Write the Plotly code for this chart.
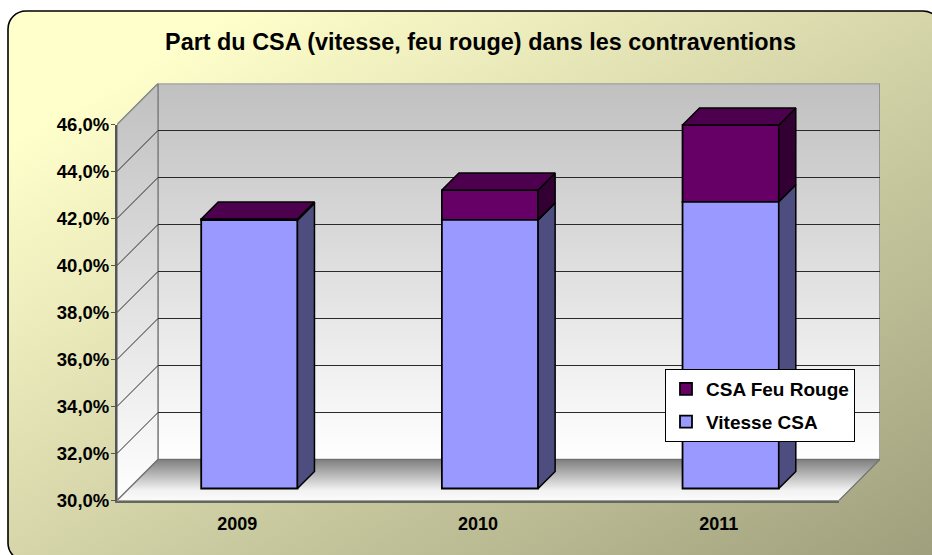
import base64
import plotly.graph_objects as go

# ---- data ----
categories = ["2009", "2010", "2011"]
vitesse_csa = [41.42, 41.43, 42.2]
feu_rouge = [0.05, 1.27, 3.27]
tick_values = [30, 32, 34, 36, 38, 40, 42, 44, 46]
tick_labels = ["30,0%", "32,0%", "34,0%", "36,0%", "38,0%", "40,0%", "42,0%", "44,0%", "46,0%"]
title_text = "Part du CSA (vitesse, feu rouge) dans les contraventions"

# ---- geometry of the 3-D box, in pixels ----
W, H = 932, 555
FRONT_L, FRONT_R, FRONT_B, FRONT_T = 117, 839, 500.5, 124.5
WALL_D = 41        # depth of the walls
BAR_OFF = 12       # distance of the bar front from the front plane
BAR_D = 17         # depth of a bar
Y_MIN, Y_MAX = tick_values[0], tick_values[-1]
PX_X = (FRONT_R - FRONT_L) / len(categories)
PX_Y = (FRONT_B - FRONT_T) / (Y_MAX - Y_MIN)
BAR_W = 0.4
DX = lambda px: px / PX_X
DY = lambda px: px / PX_Y
FONT = "Liberation Sans, Arial, sans-serif"


def dom_x(a, b):
    return [a / W, b / W]


def dom_y(bottom, top):
    return [1 - bottom / H, 1 - top / H]


# full box area, used with an offset range for each depth plane
BOX_X = dom_x(FRONT_L, FRONT_R + WALL_D)
BOX_Y = dom_y(FRONT_B, FRONT_T - WALL_D)
X0, X1 = -0.5, -0.5 + DX(FRONT_R + WALL_D - FRONT_L)
Y1 = Y_MIN + DY(FRONT_B - FRONT_T + WALL_D)


def plane_ranges(depth):
    return [X0 - DX(depth), X1 - DX(depth)], [Y_MIN - DY(depth), Y1 - DY(depth)]


fig = go.Figure()
xend = X0 + DX(FRONT_R - FRONT_L)
wx, wy = DX(WALL_D), DY(WALL_D)
wall_scale = [[0, "#FFFFFF"], [1, "#C0C0C0"]]
EDGE = "#858585"


def poly(xs, ys, fill=None, grad=None, line=EDGE, lw=1.5, xa="x", ya="y"):
    kw = dict(x=xs, y=ys, mode="lines", fill="toself", showlegend=False, hoverinfo="skip",
              line=dict(color=line, width=lw), xaxis=xa, yaxis=ya)
    if fill:
        kw["fillcolor"] = fill
    if grad:
        kw["fillgradient"] = grad
    fig.add_trace(go.Scatter(**kw))


# back wall
poly([X0 + wx, X1, X1, X0 + wx, X0 + wx], [Y_MIN + wy, Y_MIN + wy, Y1, Y1, Y_MIN + wy],
     grad=dict(type="vertical", colorscale=wall_scale, start=Y_MIN + wy, stop=Y1))
# side wall
poly([X0, X0 + wx, X0 + wx, X0, X0], [Y_MIN, Y_MIN + wy, Y1, Y_MAX, Y_MIN],
     grad=dict(type="vertical", colorscale=wall_scale, start=Y_MIN, stop=Y1))
# floor
poly([X0, xend, xend + wx, X0 + wx, X0], [Y_MIN, Y_MIN, Y_MIN + wy, Y_MIN + wy, Y_MIN],
     grad=dict(type="vertical",
               colorscale=[[0, "#FBFBFB"], [0.25, "#F2F2F2"], [1, "#7E7E7E"]],
               start=Y_MIN, stop=Y_MIN + wy), line="#707070", lw=1.2)

# gridlines running across the side wall
gx, gy = [], []
for t in tick_values[1:-1]:
    gx += [X0, X0 + wx, None]
    gy += [t, t + wy, None]
fig.add_trace(go.Scatter(x=gx, y=gy, mode="lines", line=dict(color="#2A2A2A", width=1),
                         showlegend=False, hoverinfo="skip", xaxis="x", yaxis="y"))

# back-wall plane: empty trace so that its gridlines are drawn
fig.add_trace(go.Scatter(x=[0], y=[None], xaxis="x2", yaxis="y2", mode="lines",
                         showlegend=False, hoverinfo="skip"))

# bars: front faces
FEU, VIT = "#660066", "#9999FF"
bar_line = dict(color="#000000", width=1.8)
x_pos = list(range(len(categories)))
totals = [v + f for v, f in zip(vitesse_csa, feu_rouge)]
fig.add_trace(go.Bar(x=x_pos, y=feu_rouge, base=vitesse_csa, width=BAR_W, name="CSA Feu Rouge",
                     marker=dict(color=FEU, line=bar_line), xaxis="x3", yaxis="y3",
                     legendgroup="feu"))
fig.add_trace(go.Bar(x=x_pos, y=[v - Y_MIN for v in vitesse_csa], base=Y_MIN, width=BAR_W,
                     name="Vitesse CSA", marker=dict(color=VIT, line=bar_line),
                     xaxis="x3", yaxis="y3", legendgroup="vit"))

# bars: side and top faces
bx, by = DX(BAR_D), DY(BAR_D)
for p, v, t in zip(x_pos, vitesse_csa, totals):
    r, l = p + BAR_W / 2, p - BAR_W / 2
    poly([r, r + bx, r + bx, r, r], [Y_MIN, Y_MIN + by, v + by, v, Y_MIN],
         fill="#4D4D80", line="#000000", xa="x3", ya="y3")
    poly([r, r + bx, r + bx, r, r], [v, v + by, t + by, t, v],
         fill="#330033", line="#000000", xa="x3", ya="y3")
    poly([l, r, r + bx, l + bx, l], [t, t, t + by, t + by, t],
         fill="#4D004D", line="#000000", xa="x3", ya="y3")

# panel with diagonal gradient, as an inline SVG below everything
svg = f"""<svg xmlns='http://www.w3.org/2000/svg' width='{W}' height='{H}' viewBox='0 0 {W} {H}'>
<defs><linearGradient id='g' x1='0' y1='0' x2='1' y2='1'>
<stop offset='0' stop-color='#FFFFCC'/><stop offset='0.12' stop-color='#FFFFCC'/>
<stop offset='1' stop-color='#9E9E7C'/></linearGradient></defs>
<rect x='8' y='11' width='933' height='550' rx='18' ry='18' fill='url(#g)' stroke='#000000' stroke-width='1.6'/>
</svg>"""
src = "data:image/svg+xml;base64," + base64.b64encode(svg.encode()).decode()

tickfont = dict(family=FONT, size=18, color="#000000", weight="bold")
yfont = dict(family=FONT, size=18.5, color="#000000", weight="bold")
hidden = dict(visible=False, fixedrange=True, automargin=False)
xr3, yr3 = plane_ranges(BAR_OFF)

fig.update_layout(
    width=W, height=H, autosize=False,
    margin=dict(l=0, r=0, t=0, b=0, pad=0),
    paper_bgcolor="#FFFFFF", plot_bgcolor="rgba(0,0,0,0)",
    barmode="overlay",
    font=dict(family=FONT, color="#000000"),
    title=dict(text=title_text, x=480.5 / W, xanchor="center", xref="paper",
               y=1 - 42 / H, yanchor="middle", yref="container", automargin=False,
               font=dict(family=FONT, size=23.4, color="#000000", weight="bold")),
    images=[dict(source=src, xref="paper", yref="paper", x=0, y=1, sizex=1, sizey=1,
                 xanchor="left", yanchor="top", sizing="stretch", layer="below")],
    # walls and floor
    xaxis=dict(domain=BOX_X, range=[X0, X1], anchor="y", **hidden),
    yaxis=dict(domain=BOX_Y, range=[Y_MIN, Y1], anchor="x", **hidden),
    # back wall gridlines
    xaxis2=dict(domain=dom_x(FRONT_L + WALL_D, FRONT_R + WALL_D), range=[-0.5, 2.5], anchor="y2", **hidden),
    yaxis2=dict(domain=dom_y(FRONT_B - WALL_D, FRONT_T - WALL_D), range=[Y_MIN, Y_MAX], anchor="x2",
                tickvals=tick_values[1:-1], showgrid=True, gridcolor="#2A2A2A", gridwidth=1,
                showticklabels=False, ticks="", showline=False, zeroline=False, fixedrange=True,
                automargin=False),
    # bar plane
    xaxis3=dict(domain=BOX_X, range=xr3, anchor="y3", **hidden),
    yaxis3=dict(domain=BOX_Y, range=yr3, anchor="x3", **hidden),
    # front plane: the visible axes
    xaxis4=dict(domain=dom_x(FRONT_L, FRONT_R), range=[-0.5, 2.5], anchor="y4",
                tickvals=x_pos, ticktext=categories, tickfont=tickfont, ticks="", ticklabelstandoff=6,
                showline=True, linecolor="#666666", linewidth=1.5, showgrid=False, zeroline=False,
                fixedrange=True, automargin=False),
    yaxis4=dict(domain=dom_y(FRONT_B, FRONT_T), range=[Y_MIN, Y_MAX], anchor="x4",
                tickvals=tick_values, ticktext=tick_labels, tickfont=yfont,
                ticks="outside", ticklen=4, tickcolor="#555555", tickwidth=1.2, ticklabelstandoff=-2,
                showline=True, linecolor="#555555", linewidth=2, showgrid=False, zeroline=False,
                fixedrange=True, automargin=False),
    legend=dict(x=665 / W, y=1 - 369 / H, xanchor="left", yanchor="top",
                bgcolor="#FFFFFF", bordercolor="#000000", borderwidth=1,
                font=dict(family=FONT, size=19, color="#000000", weight="bold"),
                tracegroupgap=5, traceorder="grouped"),
)
# empty trace so the front axes exist
fig.add_trace(go.Scatter(x=x_pos, y=[None] * len(x_pos), xaxis="x4", yaxis="y4",
                         showlegend=False, hoverinfo="skip", mode="lines"))

fig.write_html("out.html", config=dict(displayModeBar=False),
               post_script="document.body.style.margin='0';")
